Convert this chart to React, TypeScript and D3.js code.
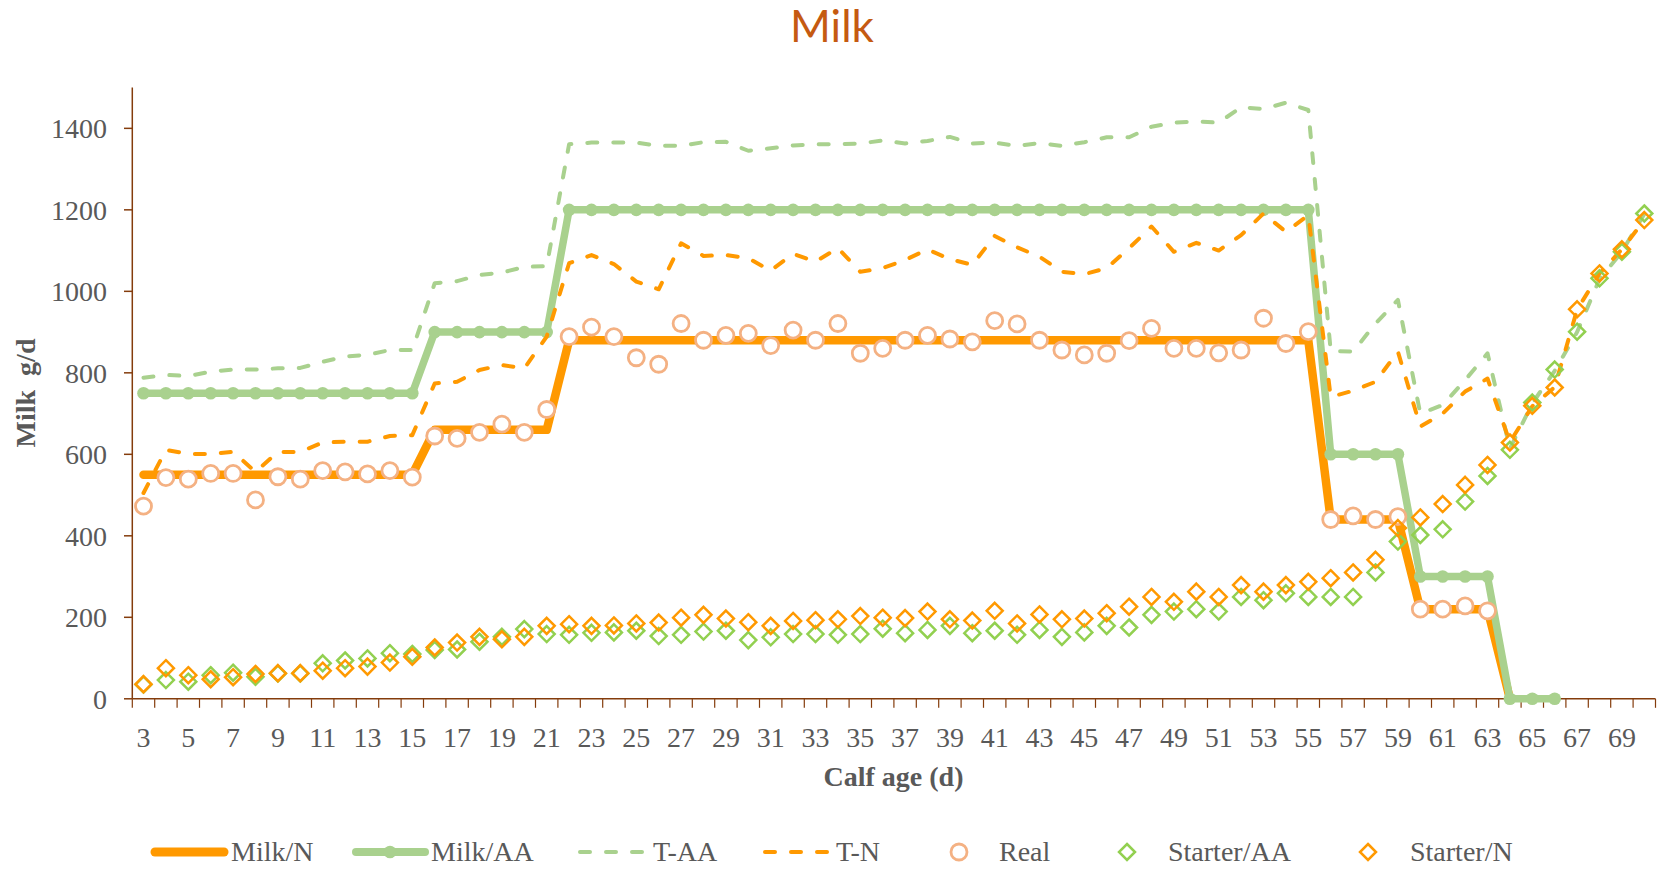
import React from 'react';
import * as d3 from 'd3';

// ---- data (calf age in days, 3..70) ----
const days: number[] = d3.range(3, 71);
const xTickDays: number[] = days.filter((d) => d % 2 === 1);
const yTicks: number[] = [0, 200, 400, 600, 800, 1000, 1200, 1400];

const milkN: (number | null)[] = [
  550, 550, 550, 550, 550, 550, 550, 550, 550, 550, 550, 550, 550,
  660, 660, 660, 660, 660, 660,
  880, 880, 880, 880, 880, 880, 880, 880, 880, 880, 880, 880, 880, 880, 880, 880, 880,
  880, 880, 880, 880, 880, 880, 880, 880, 880, 880, 880, 880, 880, 880, 880, 880, 880,
  440, 440, 440, 440,
  220, 220, 220, 220,
  0,
  null, null, null, null, null, null,
];

const milkAA: (number | null)[] = [
  750, 750, 750, 750, 750, 750, 750, 750, 750, 750, 750, 750, 750,
  900, 900, 900, 900, 900, 900,
  1200, 1200, 1200, 1200, 1200, 1200, 1200, 1200, 1200, 1200, 1200, 1200, 1200, 1200, 1200, 1200, 1200,
  1200, 1200, 1200, 1200, 1200, 1200, 1200, 1200, 1200, 1200, 1200, 1200, 1200, 1200, 1200, 1200, 1200,
  600, 600, 600, 600,
  300, 300, 300, 300,
  0, 0, 0,
  null, null, null, null,
];

const tAA: (number | null)[] = [
  788, 795, 792, 803, 808, 808, 811, 812, 827, 840, 844, 856, 856,
  1020, 1025, 1040, 1046, 1060, 1062,
  1361, 1365, 1365, 1365, 1357, 1357, 1366, 1367, 1345, 1351, 1358, 1361, 1361, 1363, 1370, 1363, 1369, 1379, 1363, 1365, 1357, 1364,
  1357, 1366, 1378, 1378, 1404, 1414, 1417, 1414, 1452, 1447, 1463, 1445,
  854, 852, 921, 979, 700, 721, 782, 848,
  614, 725, 805, 900, 1030, 1097, 1190,
];

const tN: (number | null)[] = [
  505, 611, 601, 601, 606, 557, 606, 606, 629, 631, 631, 645, 647,
  774, 778, 807, 819, 811, 889,
  1069, 1089, 1067, 1024, 1005, 1118, 1087, 1089, 1081, 1051, 1092, 1073, 1106, 1048, 1057, 1077, 1103, 1079, 1065, 1136, 1108, 1085,
  1048, 1042, 1057, 1106, 1159, 1097, 1119, 1100, 1138, 1191, 1146, 1187,
  741, 756, 778, 852, 668, 700, 754, 786,
  630, 718, 765, 955, 1044, 1103, 1175,
];

const real: (number | null)[] = [
  473, 543, 539, 553, 553, 488, 545, 539, 560, 557, 552, 560, 544,
  645, 639, 654, 674, 654, 710,
  889, 912, 889, 837, 821, 921, 880, 892, 897, 867, 905, 880, 921, 848, 860, 880, 892, 883, 876, 928, 920, 880,
  856, 844, 848, 879, 909, 860, 860, 849, 856, 934, 872, 901,
  440, 449, 440, 447, 220, 220, 228, 216,
  null, null, null, null, null, null, null,
];

const starterAA: (number | null)[] = [
  35, 46, 42, 58, 64, 54, 62, 62, 87, 94, 99, 112, 110,
  120, 121, 140, 152, 171, 159,
  157, 162, 163, 167, 154, 157, 165, 167, 144, 151, 159, 159, 157, 159, 172, 161, 169, 179, 161, 167, 157, 169,
  152, 163, 179, 175, 206, 214, 220, 214, 250, 242, 259, 250,
  250, 250, 310, 386, 402, 416, 484, 547,
  611, 727, 808, 901, 1032, 1097, 1191,
];

const starterN: (number | null)[] = [
  36, 75, 58, 48, 53, 61, 63, 63, 69, 75, 79, 89, 103,
  126, 138, 152, 146, 152, 179,
  183, 179, 180, 185, 187, 199, 206, 197, 188, 179, 191, 193, 195, 203, 199, 198, 214, 195, 192, 216, 185, 207,
  195, 197, 210, 226, 250, 238, 263, 250, 279, 263, 279, 287,
  296, 310, 341, 419, 445, 478, 525, 574,
  629, 719, 764, 956, 1044, 1103, 1175,
];

// ---- styles ----
const ORANGE = '#FF9900';
const GREEN = '#A9D18E';
const GREEN2 = '#92D050';
const SALMON = '#F4B183';
const AXIS = '#843C0C';
const TEXT = '#595959';
const SERIF = "'Liberation Serif', 'Times New Roman', serif";

export default function App() {
  const W = 1660;
  const H = 869;
  const x = d3.scaleBand<number>().domain(days).range([132.3, 1655.5]).padding(0);
  const bw = x.bandwidth();
  const cx = (d: number) => (x(d) as number) + bw / 2;
  const y = d3.scaleLinear().domain([0, 1500]).range([698.8, 87.6]);
  const y0 = y(0);

  const pts = (vals: (number | null)[]) =>
    days.map((d, i) => [d, vals[i]] as [number, number | null]);

  const lineGen = d3
    .line<[number, number | null]>()
    .defined((p) => p[1] != null)
    .x((p) => cx(p[0]))
    .y((p) => y(p[1] as number));

  const diamond = (px: number, py: number, s: number) =>
    `M${px},${py - s}L${px + s},${py}L${px},${py + s}L${px - s},${py}Z`;

  const dash = '10 16';

  const markers = (vals: (number | null)[]) =>
    pts(vals).filter((p) => p[1] != null) as [number, number][];

  const boundaries = d3.range(days.length + 1).map((i) => 132.3 + i * bw);

  const legendY = 852;
  const legendTextY = 861;

  return (
    <svg
      width={W}
      height={H}
      style={{ position: 'absolute', left: 0, top: 0, background: '#fff' }}
    >
      <rect x={0} y={0} width={W} height={H} fill="#fff" />
      {/* title */}
      <text
        x={832}
        y={42}
        textAnchor="middle"
        fontFamily="Lato, 'Open Sans', sans-serif"
        fontSize={44}
        fill="#C55A11"
      >
        Milk
      </text>

      {/* y axis */}
      <line x1={132.3} x2={132.3} y1={y(1500)} y2={y0} stroke={AXIS} strokeWidth={1.5} />
      {yTicks.map((t) => (
        <g key={t}>
          <line x1={124} x2={132.3} y1={y(t)} y2={y(t)} stroke={AXIS} strokeWidth={1.5} />
          <text
            x={107}
            y={y(t)}
            dy="0.35em"
            textAnchor="end"
            fontFamily={SERIF}
            fontSize={28}
            fill={TEXT}
          >
            {t}
          </text>
        </g>
      ))}

      {/* x axis */}
      <line x1={132.3} x2={1655.5} y1={y0} y2={y0} stroke={AXIS} strokeWidth={1.5} />
      {boundaries.map((b, i) => (
        <line key={i} x1={b} x2={b} y1={y0} y2={y0 + 9} stroke={AXIS} strokeWidth={1.2} />
      ))}
      {xTickDays.map((d) => (
        <text
          key={d}
          x={cx(d)}
          y={747}
          textAnchor="middle"
          fontFamily={SERIF}
          fontSize={28}
          fill={TEXT}
        >
          {d}
        </text>
      ))}

      {/* axis titles */}
      <text
        x={893.5}
        y={786}
        textAnchor="middle"
        fontFamily={SERIF}
        fontWeight="bold"
        fontSize={28}
        fill={TEXT}
      >
        Calf age (d)
      </text>
      <text
        transform={`translate(35,393) rotate(-90)`}
        textAnchor="middle"
        fontFamily={SERIF}
        fontWeight="bold"
        fontSize={28}
        fill={TEXT}
        style={{ whiteSpace: 'pre' }}
      >
        {'Milk  g/d'}
      </text>

      {/* series */}
      <path
        d={lineGen(pts(milkN)) || ''}
        fill="none"
        stroke={ORANGE}
        strokeWidth={8.5}
        strokeLinejoin="round"
        strokeLinecap="round"
      />
      <path
        d={lineGen(pts(milkAA)) || ''}
        fill="none"
        stroke={GREEN}
        strokeWidth={7.5}
        strokeLinejoin="round"
        strokeLinecap="round"
      />
      {markers(milkAA).map(([d, v]) => (
        <circle key={'ma' + d} cx={cx(d)} cy={y(v)} r={6.3} fill={GREEN} />
      ))}
      <path
        d={lineGen(pts(tAA)) || ''}
        fill="none"
        stroke={GREEN}
        strokeWidth={4}
        strokeDasharray={dash}
        strokeLinecap="round"
        strokeLinejoin="round"
      />
      <path
        d={lineGen(pts(tN)) || ''}
        fill="none"
        stroke={ORANGE}
        strokeWidth={4}
        strokeDasharray={dash}
        strokeLinecap="round"
        strokeLinejoin="round"
      />
      {markers(real).map(([d, v]) => (
        <circle
          key={'r' + d}
          cx={cx(d)}
          cy={y(v)}
          r={8}
          fill="#fff"
          stroke={SALMON}
          strokeWidth={2.8}
        />
      ))}
      {markers(starterAA).map(([d, v]) => (
        <path
          key={'sa' + d}
          d={diamond(cx(d), y(v), 8)}
          fill="none"
          stroke={GREEN2}
          strokeWidth={2.5}
        />
      ))}
      {markers(starterN).map(([d, v]) => (
        <path
          key={'sn' + d}
          d={diamond(cx(d), y(v), 8)}
          fill="none"
          stroke={ORANGE}
          strokeWidth={2.5}
        />
      ))}

      {/* legend */}
      <g fontFamily={SERIF} fontSize={28} fill={TEXT}>
        <line x1={155} x2={224} y1={legendY} y2={legendY} stroke={ORANGE} strokeWidth={9} strokeLinecap="round" />
        <text x={231} y={legendTextY}>Milk/N</text>

        <line x1={356} x2={425} y1={legendY} y2={legendY} stroke={GREEN} strokeWidth={8} strokeLinecap="round" />
        <circle cx={390} cy={legendY} r={6.3} fill={GREEN} />
        <text x={431} y={legendTextY}>Milk/AA</text>

        <line x1={580} x2={645} y1={legendY} y2={legendY} stroke={GREEN} strokeWidth={4} strokeDasharray={dash} strokeLinecap="round" />
        <text x={653} y={legendTextY}>T-AA</text>

        <line x1={765} x2={830} y1={legendY} y2={legendY} stroke={ORANGE} strokeWidth={4} strokeDasharray={dash} strokeLinecap="round" />
        <text x={836} y={legendTextY}>T-N</text>

        <circle cx={959} cy={legendY} r={8} fill="#fff" stroke={SALMON} strokeWidth={2.8} />
        <text x={999} y={legendTextY}>Real</text>

        <path d={diamond(1127, legendY, 8)} fill="none" stroke={GREEN2} strokeWidth={2.5} />
        <text x={1168} y={legendTextY}>Starter/AA</text>

        <path d={diamond(1368, legendY, 8)} fill="none" stroke={ORANGE} strokeWidth={2.5} />
        <text x={1410} y={legendTextY}>Starter/N</text>
      </g>
    </svg>
  );
}
